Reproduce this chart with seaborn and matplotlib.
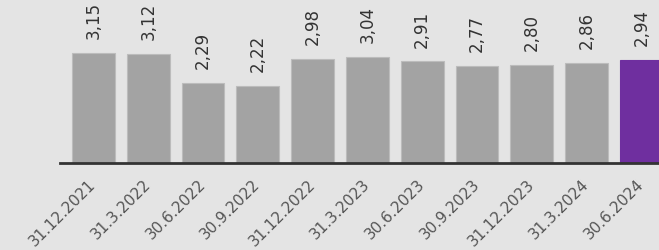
import matplotlib
matplotlib.use("Agg")
import matplotlib.pyplot as plt
import seaborn as sns
import pandas as pd

dates = ["31.12.2021", "31.3.2022", "30.6.2022", "30.9.2022", "31.12.2022",
         "31.3.2023", "30.6.2023", "30.9.2023", "31.12.2023", "31.3.2024", "30.6.2024"]
values = [3.15, 3.12, 2.29, 2.22, 2.98, 3.04, 2.91, 2.77, 2.80, 2.86, 2.94]
labels = ["3,15", "3,12", "2,29", "2,22", "2,98", "3,04", "2,91", "2,77", "2,80", "2,86", "2,94"]
colors = ["#a3a3a3"] * 10 + ["#6f2f9f"]

bg = "#e4e4e4"
sns.set_theme(style="white")
plt.rcParams['font.family'] = ['DejaVu Sans']

W, H = 659, 250
fig = plt.figure(figsize=(W / 100, H / 100), dpi=100, facecolor=bg)
ax = fig.add_axes([60 / W, (H - 163) / H, (659 - 60) / W, 163 / H])
ax.set_facecolor(bg)

df = pd.DataFrame({"date": dates, "value": values})
sns.barplot(data=df, x="date", y="value", hue="date", palette=colors,
            legend=False, width=0.78, ax=ax, saturation=1)
for p, c in zip(ax.patches, colors):
    p.set_edgecolor("#bcbcbc" if c == "#a3a3a3" else c)
    p.set_linewidth(0.8)

ax.set_xlim(-0.61, 10.32)
ax.set_ylim(0, 4.67)
for s in ["top", "right", "left"]:
    ax.spines[s].set_visible(False)
ax.spines["bottom"].set_color("#333333")
ax.spines["bottom"].set_linewidth(2)
ax.set_yticks([])
ax.set_xlabel("")
ax.set_ylabel("")
ax.tick_params(axis="x", length=0, pad=14)
ax.set_xticks(range(len(dates)))
ax.set_xticklabels(dates, rotation=45, ha="right", va="center",
                   rotation_mode="anchor", fontsize=11, color="#555555")

for i, (v, t) in enumerate(zip(values, labels)):
    ax.annotate(t, (i, v), xytext=(0, 10), textcoords="offset points",
                rotation=90, ha="center", va="bottom", fontsize=12,
                color="#333333", annotation_clip=False)

fig.savefig("out.png", dpi=100, facecolor=bg)
